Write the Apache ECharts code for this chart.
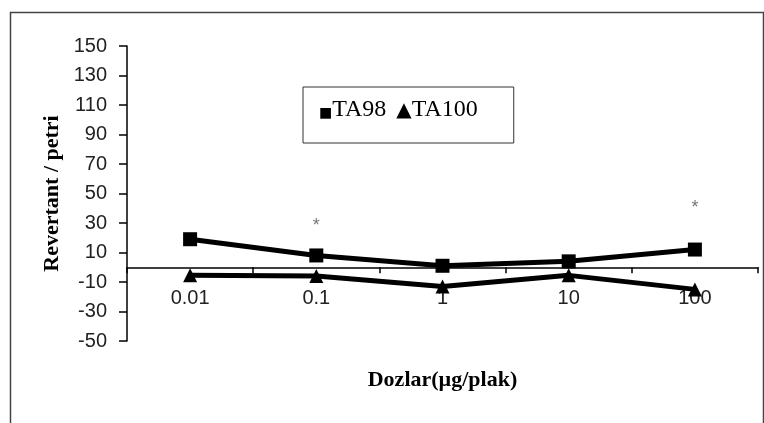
<!DOCTYPE html>
<html><head><meta charset="utf-8">
<script src="https://cdn.jsdelivr.net/npm/echarts@6/dist/echarts.min.js"></script>
<style>html,body{margin:0;padding:0;background:#fff}#c{width:764px;height:423px}</style>
</head><body><div id="c"></div>
<script>
var categories = ['0.01', '0.1', '1', '10', '100'];
var ta98 = [19, 8, 1, 4, 12];
var ta100 = [-5.5, -6, -13, -5.5, -15];
var significance = [null, 28, null, null, 40];
var yTicks = [-50, -30, -10, 10, 30, 50, 70, 90, 110, 130, 150];

var labelFont = "'Liberation Sans', Arial, sans-serif";
var serif = "'Liberation Serif', 'Times New Roman', serif";

var chart = echarts.init(document.getElementById('c'), null, {renderer: 'canvas'});
chart.setOption({
  backgroundColor: '#fff',
  animation: false,
  graphic: [{
    type: 'rect', left: 8, top: 10,
    shape: {width: 753, height: 430},
    style: {fill: 'none', stroke: '#444', lineWidth: 1.5}, silent: true
  }],
  grid: {left: 127, right: 6, top: 46, bottom: 82, containLabel: false, outerBoundsMode: 'none'},
  legend: {
    data: ['TA98', 'TA100'],
    icon: 'rect',
    left: 303, top: 87,
    orient: 'horizontal',
    itemWidth: 1, itemHeight: 1, itemGap: 4,
    itemStyle: {opacity: 0},
    padding: [11, 36, 21, 10],
    borderColor: '#333', borderWidth: 1,
    formatter: function (name) {
      return (name === 'TA98' ? '{sq|\u25A0}' : '{tr|\u25B2}') + name;
    },
    textStyle: {
      fontFamily: serif, fontSize: 24, color: '#000', lineHeight: 24,
      rich: {
        sq: {fontFamily: 'DejaVu Sans', fontSize: 14, color: '#000', lineHeight: 24, verticalAlign: 'bottom', padding: [0, 0, 2, 0]},
        tr: {fontFamily: 'DejaVu Sans', fontSize: 20, color: '#000', lineHeight: 24, verticalAlign: 'bottom', padding: [0, 0, 1, 0]}
      }
    },
    selectedMode: false
  },
  xAxis: {
    type: 'category', data: categories,
    name: 'Dozlar(\u00b5g/plak)', nameLocation: 'middle', nameGap: 28, nameMoveOverlap: false,
    nameTextStyle: {fontFamily: serif, fontWeight: 'bold', fontSize: 22, color: '#000'},
    axisLine: {onZero: true, lineStyle: {color: '#000', width: 1.5}},
    axisTick: {show: true, length: 6, lineStyle: {color: '#000', width: 1.5}},
    axisLabel: {margin: -53, fontFamily: labelFont, fontSize: 20, color: '#222'},
    splitLine: {show: false}
  },
  yAxis: {
    type: 'value', min: -50, max: 150,
    name: 'Revertant / petri', nameLocation: 'middle', nameGap: 64, nameMoveOverlap: false,
    nameTextStyle: {fontFamily: serif, fontWeight: 'bold', fontSize: 22, color: '#000'},
    axisLine: {show: true, lineStyle: {color: '#000', width: 1.5}},
    axisTick: {show: true, length: 8, customValues: yTicks, lineStyle: {color: '#000', width: 1.5}},
    axisLabel: {customValues: yTicks, margin: 20, fontFamily: labelFont, fontSize: 20, color: '#222'},
    splitLine: {show: false}
  },
  series: [
    {
      name: 'TA98', type: 'line', data: ta98,
      symbol: 'rect', symbolSize: 14,
      lineStyle: {color: '#000', width: 5},
      itemStyle: {color: '#000'}
    },
    {
      name: 'TA100', type: 'line', data: ta100,
      symbol: 'triangle', symbolSize: 14,
      lineStyle: {color: '#000', width: 5},
      itemStyle: {color: '#000'}
    },
    {
      name: 'sig', type: 'scatter', data: significance,
      symbolSize: 0,
      label: {show: true, position: 'inside', formatter: '*', fontFamily: labelFont, fontSize: 18, color: '#555'}
    }
  ]
});
</script></body></html>
